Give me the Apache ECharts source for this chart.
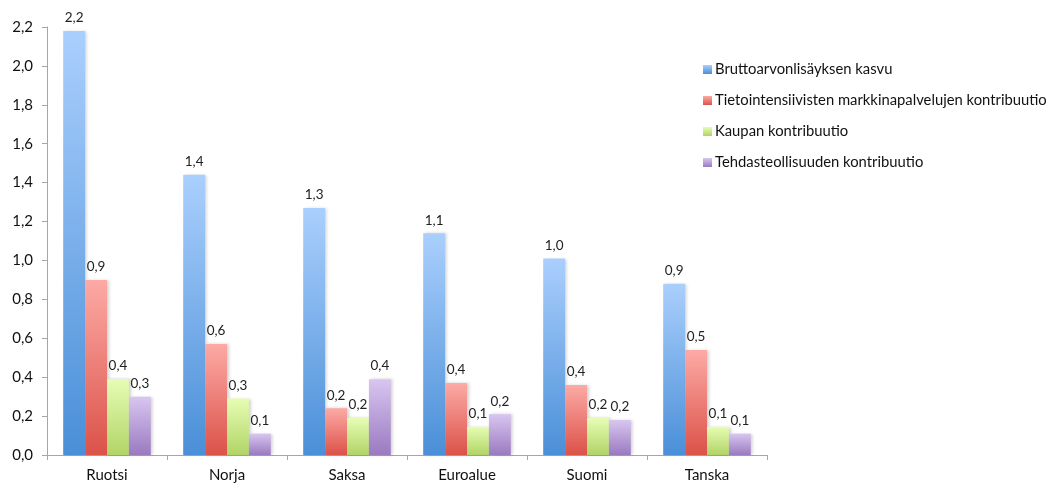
<!DOCTYPE html>
<html>
<head>
<meta charset="utf-8">
<script src="https://cdn.jsdelivr.net/npm/echarts@6/dist/echarts.min.js"></script>
<style>
  html, body { margin: 0; padding: 0; background: #fff; }
  #chart { width: 1056px; height: 484px; }
</style>
</head>
<body>
<div id="chart"></div>
<script>
// data
let maat = ['Ruotsi', 'Norja', 'Saksa', 'Euroalue', 'Suomi', 'Tanska']
let sarjat = [
    'Bruttoarvonlisäyksen kasvu',
    'Tietointensiivisten markkinapalvelujen kontribuutio',
    'Kaupan kontribuutio',
    'Tehdasteollisuuden kontribuutio'
]
let kasvu = [2.18, 1.44, 1.27, 1.14, 1.01, 0.88]
let tieto = [0.9, 0.57, 0.24, 0.37, 0.36, 0.54]
let kauppa = [0.39, 0.29, 0.19, 0.145, 0.19, 0.145]
let teollisuus = [0.3, 0.11, 0.39, 0.21, 0.18, 0.11]

// top / bottom colours of the gradients
let colors = [
    ['#aacffd', '#4a8fd8'],
    ['#fdaaa5', '#db5249'],
    ['#e6fdb4', '#b1d466'],
    ['#d8c6f0', '#9a7ac0']
]

let fmt = (v) => v.toFixed(1).replace('.', ',')

let makeSeries = (name, data, c) => ({
    name: name,
    type: 'bar',
    data: data,
    barGap: '0%',
    barCategoryGap: '27%',
    itemStyle: {
        color: new echarts.graphic.LinearGradient(0, 0, 0, 1, [
            { offset: 0, color: c[0] },
            { offset: 1, color: c[1] }
        ]),
        shadowColor: 'rgba(0,0,0,0.18)',
        shadowBlur: 3,
        shadowOffsetX: 2
    },
    label: {
        show: true,
        position: 'top',
        distance: 6,
        fontFamily: 'Lato',
        fontSize: 13.5,
        color: '#222',
        formatter: (p) => fmt(p.value)
    }
})

let myChart = echarts.init(document.getElementById('chart'))
let option = {
    animation: false,
    grid: { left: 47, right: 289, top: 27, bottom: 29 },
    legend: {
        orient: 'vertical',
        left: 698,
        top: 57,
        itemWidth: 9,
        itemHeight: 9,
        itemGap: 16,
        icon: 'rect',
        data: sarjat,
        textStyle: { fontFamily: 'Lato', fontSize: 14.8, color: '#111', padding: [0, 0, 0, -2] }
    },
    xAxis: {
        type: 'category',
        data: maat,
        axisLine: { lineStyle: { color: '#a6a6a6', width: 1 } },
        axisTick: { show: true, length: 5, lineStyle: { color: '#a6a6a6' } },
        axisLabel: { fontFamily: 'Lato', fontSize: 15, color: '#111', margin: 13 }
    },
    yAxis: {
        type: 'value',
        min: 0,
        max: 2.2,
        interval: 0.2,
        splitLine: { show: false },
        axisLine: { show: true, lineStyle: { color: '#a6a6a6', width: 1 } },
        axisTick: { show: true, length: 5, lineStyle: { color: '#a6a6a6' } },
        axisLabel: {
            fontFamily: 'Lato', fontSize: 15, color: '#111', margin: 14,
            formatter: (v) => fmt(v)
        }
    },
    series: [
        makeSeries(sarjat[0], kasvu, colors[0]),
        makeSeries(sarjat[1], tieto, colors[1]),
        makeSeries(sarjat[2], kauppa, colors[2]),
        makeSeries(sarjat[3], teollisuus, colors[3])
    ]
}
myChart.setOption(option)
window.addEventListener('resize', function () {
    myChart.resize()
})
</script>
</body>
</html>
